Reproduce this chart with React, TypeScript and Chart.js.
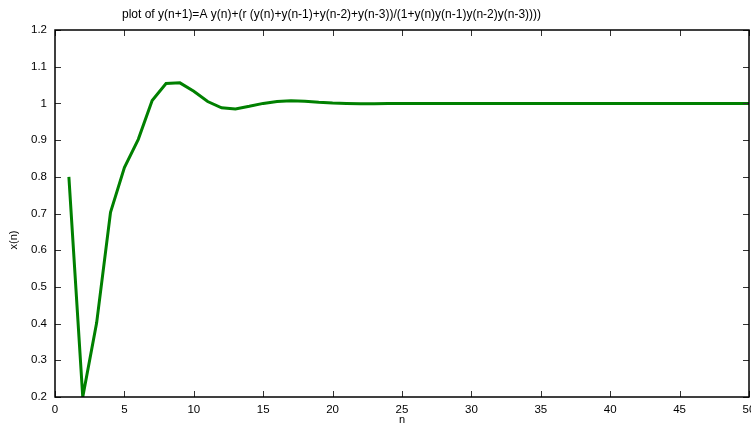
import React, { useEffect, useRef } from "react";
import { Chart, registerables } from "chart.js";

Chart.register(...registerables);

const TITLE = "plot of y(n+1)=A y(n)+(r (y(n)+y(n-1)+y(n-2)+y(n-3))/(1+y(n)y(n-1)y(n-2)y(n-3))))";
const X_LABEL = "n";
const Y_LABEL = "x(n)";

const nValues: number[] = [
  1, 2, 3, 4, 5, 6, 7, 8, 9, 10,
  11, 12, 13, 14, 15, 16, 17, 18, 19, 20,
  21, 22, 23, 24, 25, 26, 27, 28, 29, 30,
  31, 32, 33, 34, 35, 36, 37, 38, 39, 40,
  41, 42, 43, 44, 45, 46, 47, 48, 49, 50,
];
const xValues: number[] = [
  0.8, 0.2, 0.402, 0.703, 0.825, 0.902, 1.008, 1.054, 1.056, 1.033,
  1.005, 0.988, 0.985, 0.992, 1.0, 1.005, 1.007, 1.006, 1.003, 1.001,
  1.0, 0.999, 0.999, 1.0, 1.0, 1.0, 1.0, 1.0, 1.0, 1.0,
  1.0, 1.0, 1.0, 1.0, 1.0, 1.0, 1.0, 1.0, 1.0, 1.0,
  1.0, 1.0, 1.0, 1.0, 1.0, 1.0, 1.0, 1.0, 1.0, 1.0,
];

const X_MIN = 0;
const X_MAX = 50;
const X_STEP = 5;
const Y_MIN = 0.2;
const Y_MAX = 1.2;
const Y_STEP = 0.1;

const FONT = "'Liberation Sans', Arial, sans-serif";

const framePlugin = {
  id: "gnuplotFrame",
  afterDraw(chart: any) {
    const { ctx, chartArea } = chart;
    const { left, right, top, bottom } = chartArea;
    const xs = chart.scales.x;
    const ys = chart.scales.y;
    const tl = 6;
    ctx.save();
    ctx.strokeStyle = "#333";
    ctx.lineWidth = 1;
    ctx.beginPath();
    xs.ticks.forEach((t: any) => {
      const px = Math.round(xs.getPixelForValue(t.value)) + 0.5;
      ctx.moveTo(px, bottom);
      ctx.lineTo(px, bottom - tl);
      ctx.moveTo(px, top);
      ctx.lineTo(px, top + tl);
    });
    ys.ticks.forEach((t: any) => {
      const py = Math.round(ys.getPixelForValue(t.value)) + 0.5;
      ctx.moveTo(left, py);
      ctx.lineTo(left + tl, py);
      ctx.moveTo(right, py);
      ctx.lineTo(right - tl, py);
    });
    ctx.stroke();
    ctx.strokeStyle = "#000";
    ctx.lineWidth = 1.5;
    ctx.strokeRect(left, top, right - left, bottom - top);
    ctx.fillStyle = "#000";
    ctx.font = `12px ${FONT}`;
    ctx.textAlign = "left";
    ctx.textBaseline = "middle";
    ctx.fillText(TITLE, 122, 15);
    ctx.font = `11px ${FONT}`;
    ctx.textAlign = "center";
    ctx.fillText(X_LABEL, (left + right) / 2, 420);
    ctx.translate(14, 240);
    ctx.rotate(-Math.PI / 2);
    ctx.fillText(Y_LABEL, 0, 0);
    ctx.restore();
  },
};

export default function App() {
  const ref = useRef<HTMLCanvasElement | null>(null);

  useEffect(() => {
    document.body.style.margin = "0";
    const canvas = ref.current;
    if (!canvas) return;
    const chart = new Chart(canvas, {
      type: "line",
      data: {
        datasets: [
          {
            data: nValues.map((n, i) => ({ x: n, y: xValues[i] })),
            borderColor: "#008000",
            borderWidth: 3,
            pointRadius: 0,
            tension: 0,
            fill: false,
          },
        ],
      },
      options: {
        animation: false,
        responsive: false,
        maintainAspectRatio: false,
        devicePixelRatio: 1,
        layout: { padding: { top: 30, right: 2, left: 0, bottom: 0 } },
        plugins: {
          legend: { display: false },
          title: { display: false },
          tooltip: { enabled: false },
        },
        scales: {
          x: {
            type: "linear",
            min: X_MIN,
            max: X_MAX,
            grid: { display: false, drawTicks: false },
            border: { display: false },
            ticks: {
              stepSize: X_STEP,
              color: "#000",
              font: { family: FONT, size: 11.5 },
              padding: 6,
              maxRotation: 0,
              autoSkip: false,
            },
            afterFit(scale: any) {
              scale.height = 30;
              scale.paddingLeft = 0;
              scale.paddingRight = 0;
            },
          },
          y: {
            type: "linear",
            min: Y_MIN,
            max: Y_MAX,
            grid: { display: false, drawTicks: false },
            border: { display: false },
            ticks: {
              stepSize: Y_STEP,
              color: "#000",
              font: { family: FONT, size: 11.5 },
              padding: 8,
              callback: (v: any) => String(Math.round(Number(v) * 10) / 10),
            },
            afterFit(scale: any) {
              scale.width = 55;
              scale.paddingTop = 0;
              scale.paddingBottom = 0;
            },
          },
        },
      },
      plugins: [framePlugin],
    });
    return () => chart.destroy();
  }, []);

  return (
    <div style={{ position: "fixed", left: 0, top: 0, width: 751, height: 427 }}>
      <canvas ref={ref} width={751} height={427} style={{ width: 751, height: 427, display: "block" }} />
    </div>
  );
}
